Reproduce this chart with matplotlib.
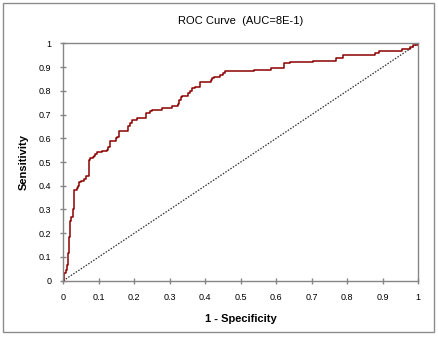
import numpy as np
import matplotlib
matplotlib.use('Agg')
import matplotlib.pyplot as plt
from matplotlib.patches import Rectangle

# ROC points (1 - specificity, sensitivity)
fpr = [0.0, 0.003, 0.008, 0.011, 0.014, 0.017, 0.019, 0.023, 0.026, 0.030,
       0.031, 0.038, 0.040, 0.045, 0.049, 0.059, 0.063, 0.071, 0.075, 0.083,
       0.086, 0.089, 0.094, 0.108, 0.124, 0.127, 0.131, 0.148, 0.152, 0.157,
       0.183, 0.188, 0.193, 0.207, 0.234, 0.244, 0.251, 0.279, 0.305, 0.324,
       0.327, 0.331, 0.335, 0.352, 0.357, 0.362, 0.371, 0.385, 0.415, 0.418,
       0.425, 0.441, 0.449, 0.455, 0.538, 0.584, 0.622, 0.639, 0.704, 0.767,
       0.787, 0.879, 0.890, 0.953, 0.977, 0.986, 1.0]
tpr = [0.0, 0.031, 0.045, 0.066, 0.115, 0.185, 0.250, 0.270, 0.300, 0.310,
       0.380, 0.390, 0.400, 0.417, 0.420, 0.427, 0.442, 0.508, 0.515, 0.520,
       0.527, 0.534, 0.543, 0.547, 0.550, 0.565, 0.590, 0.600, 0.607, 0.630,
       0.653, 0.663, 0.677, 0.684, 0.705, 0.715, 0.719, 0.726, 0.736, 0.745,
       0.761, 0.775, 0.780, 0.790, 0.800, 0.810, 0.817, 0.838, 0.845, 0.853,
       0.860, 0.867, 0.876, 0.882, 0.886, 0.895, 0.916, 0.922, 0.926, 0.937,
       0.951, 0.958, 0.969, 0.977, 0.986, 0.993, 1.0]
ticks = [0, 0.1, 0.2, 0.3, 0.4, 0.5, 0.6, 0.7, 0.8, 0.9, 1]
tick_labels = ['0', '0.1', '0.2', '0.3', '0.4', '0.5', '0.6', '0.7', '0.8', '0.9', '1']

plt.rcParams['font.family'] = ['Liberation Sans', 'DejaVu Sans']

fig = plt.figure(figsize=(4.38, 3.45), dpi=100)
ax = fig.add_axes([63.3 / 438, 64.3 / 345, 355 / 438, 237.4 / 345])

# outer chart frame
fig.patches.append(Rectangle((3 / 438, 13 / 345), 431 / 438, 329 / 345,
                             transform=fig.transFigure, fill=False,
                             edgecolor='#8c8c8c', linewidth=1))

ax.plot([0, 1], [0, 1], color='#303030', linestyle=(0, (1.2, 1.2)), linewidth=0.9)
ax.plot(fpr, tpr, drawstyle='steps-post', color='#8b0000', linewidth=1.1)

ax.set_xlim(0, 1)
ax.set_ylim(0, 1)
ax.set_xticks(ticks)
ax.set_xticklabels(tick_labels)
ax.set_yticks(ticks)
ax.set_yticklabels(tick_labels)
for s in ax.spines.values():
    s.set_color('#868686')
    s.set_linewidth(1)
ax.tick_params(direction='inout', length=5, width=1, color='#868686',
               labelsize=6.5, pad=6)

ax.set_title('ROC Curve  (AUC=8E-1)', fontsize=8, pad=14)
ax.set_xlabel('1 - Specificity', fontsize=8, fontweight='bold', labelpad=9)
ax.set_ylabel('Sensitivity', fontsize=8, fontweight='bold', labelpad=7)

fig.savefig('out.png', dpi=100)
